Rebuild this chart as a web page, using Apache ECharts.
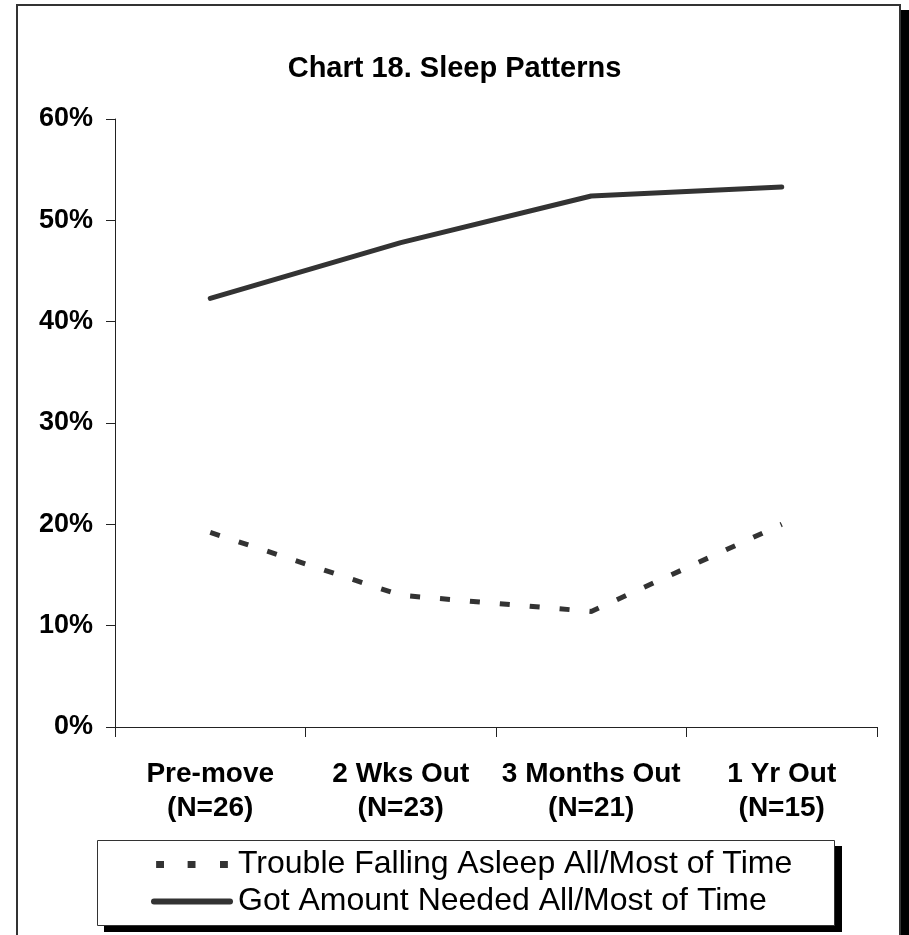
<!DOCTYPE html>
<html>
<head>
<meta charset="utf-8">
<script src="https://cdn.jsdelivr.net/npm/echarts@6/dist/echarts.min.js"></script>
<style>
html,body{margin:0;padding:0;background:#fff;}
#chart{width:909px;height:935px;}
</style>
</head>
<body>
<div id="chart"></div>
<script>
var categories = ['Pre-move\n(N=26)', '2 Wks Out\n(N=23)', '3 Months Out\n(N=21)', '1 Yr Out\n(N=15)'];
var troubleFalling = [19.2, 13.0, 11.4, 20.0];
var gotAmount = [42.3, 47.8, 52.4, 53.3];
var seriesNames = ['Trouble Falling Asleep All/Most of Time', 'Got Amount Needed All/Most of Time'];
var yTicks = [0, 10, 20, 30, 40, 50, 60];

var chart = echarts.init(document.getElementById('chart'), null, {renderer: 'canvas'});
var FONT = 'Liberation Sans, Arial, sans-serif';
var dashIcon = 'path://M0,0h9v8h-9zM36,0h9v8h-9zM73,0h9v8h-9z';
var solidIcon = 'path://M3,0h76a3,3 0 0 1 0,6h-76a3,3 0 0 1 0,-6z';
chart.setOption({
  animation: false,
  backgroundColor: '#fff',
  title: {
    text: 'Chart 18. Sleep Patterns',
    left: 'center',
    top: 49,
    textStyle: {fontFamily: FONT, fontSize: 29, fontWeight: 'bold', color: '#000'}
  },
  graphic: [
    {type: 'rect', z: -10, shape: {x: 901, y: 10, width: 10, height: 940}, style: {fill: '#000'}},
    {type: 'rect', z: -9, shape: {x: 17, y: 5, width: 883, height: 960}, style: {fill: '#fff', stroke: '#333', lineWidth: 2}},
    {type: 'rect', z: -8, shape: {x: 104, y: 846, width: 738, height: 86}, style: {fill: '#000'}},
    {type: 'rect', z: -7, shape: {x: 97.5, y: 840.5, width: 737, height: 85}, style: {fill: '#fff', stroke: '#333', lineWidth: 1}}
  ],
  legend: {
    orient: 'vertical',
    left: 151,
    top: 848,
    itemWidth: 82,
    itemHeight: 7,
    itemGap: 4,
    padding: 0,
    textStyle: {fontFamily: FONT, fontSize: 32, lineHeight: 33, color: '#000'},
    data: [
      {name: seriesNames[0], icon: dashIcon},
      {name: seriesNames[1], icon: solidIcon}
    ]
  },
  grid: {left: 115, right: 32, top: 119, bottom: 208},
  xAxis: {
    type: 'category',
    data: categories,
    boundaryGap: true,
    axisLine: {lineStyle: {color: '#222', width: 1}},
    axisTick: {show: true, length: 10, lineStyle: {color: '#222'}},
    axisLabel: {fontFamily: FONT, fontSize: 28, fontWeight: 'bold', color: '#000', lineHeight: 34, margin: 30, interval: 0}
  },
  yAxis: {
    type: 'value',
    min: yTicks[0],
    max: yTicks[yTicks.length - 1],
    interval: 10,
    axisLine: {show: true, lineStyle: {color: '#222', width: 1}},
    axisTick: {show: true, length: 9, lineStyle: {color: '#222'}},
    splitLine: {show: false},
    axisLabel: {fontFamily: FONT, fontSize: 27, fontWeight: 'bold', color: '#000', margin: 22, formatter: '{value}%'}
  },
  series: [
    {
      name: seriesNames[0],
      type: 'line',
      data: troubleFalling,
      symbol: 'none',
      lineStyle: {color: '#333', width: 5, type: [10, 20], cap: 'butt'},
      itemStyle: {color: '#333'}
    },
    {
      name: seriesNames[1],
      type: 'line',
      data: gotAmount,
      symbol: 'none',
      lineStyle: {color: '#333', width: 5, cap: 'round'},
      itemStyle: {color: '#333'}
    }
  ]
});
</script>
</body>
</html>
